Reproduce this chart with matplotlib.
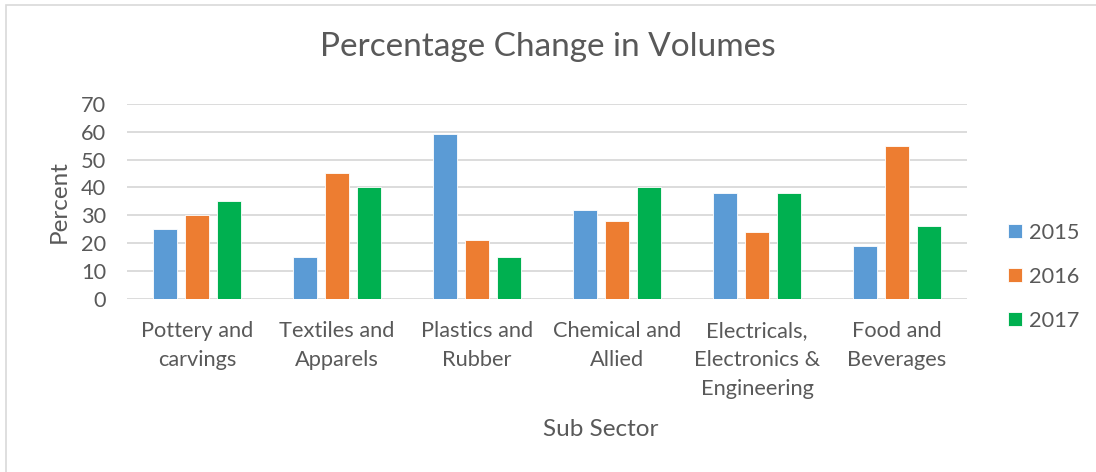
import matplotlib.pyplot as plt
import numpy as np
from matplotlib.patches import Rectangle

# sub sectors and yearly percentage change in volumes
sectors = ["Pottery and\ncarvings", "Textiles and\nApparels", "Plastics and\nRubber",
           "Chemical and\nAllied", "Electricals,\nElectronics &\nEngineering",
           "Food and\nBeverages"]
years = ["2015", "2016", "2017"]
vol_2015 = [25, 15, 59, 32, 38, 19]
vol_2016 = [30, 45, 21, 28, 24, 55]
vol_2017 = [35, 40, 15, 40, 38, 26]
y_ticks = [0, 10, 20, 30, 40, 50, 60, 70]

colors = ["#5B9BD5", "#ED7D31", "#00B050"]
text_color = "#595959"
grid_color = "#D9D9D9"

plt.rcParams['font.family'] = ['Lato', 'DejaVu Sans']

fig = plt.figure(figsize=(10.96, 4.72), dpi=100)
ax = fig.add_axes([127 / 1096, 1 - 299 / 472, 840 / 1096, (299 - 103.7) / 472])

x = np.arange(len(sectors))
width = 0.171
step = 0.226
for i, (vals, yr) in enumerate(zip([vol_2015, vol_2016, vol_2017], years)):
    ax.bar(x + (i - 1) * step, vals, width, color=colors[i], label=yr,
           edgecolor="white", linewidth=0.6, zorder=3)

ax.set_xlim(-0.5, len(sectors) - 0.5)
ax.set_ylim(0, 70)
ax.set_yticks(y_ticks)
ax.set_xticks(x)
ax.set_xticklabels(sectors, fontsize=15.7, color=text_color, linespacing=1.55)
ax.tick_params(axis='y', labelsize=15.7, labelcolor=text_color, length=0, pad=15)
ax.tick_params(axis='x', length=0, pad=16)
ax.grid(axis='y', color=grid_color, linewidth=1.3, zorder=0)
for s in ax.spines.values():
    s.set_visible(False)

ax.set_ylabel("Percent", fontsize=17.5, color=text_color, labelpad=8)
fig.text(601 / 1096, 1 - 430 / 472, "Sub Sector", fontsize=17.5, color=text_color,
         ha='center', va='center')
fig.text(548 / 1096, 1 - 47 / 472, "Percentage Change in Volumes", fontsize=24,
         color=text_color, ha='center', va='center')

leg = fig.legend(loc='upper left', bbox_to_anchor=(988 / 1096, 1 - 203 / 472),
                 frameon=False, fontsize=15.7, labelcolor=text_color,
                 handlelength=0.65, handleheight=0.65, handletextpad=0.35,
                 labelspacing=1.1)

# thin chart-area border along top and left
fig.patches.append(Rectangle((6 / 1096, -0.1), 1.2, 1 - 5 / 472 + 0.1,
                             transform=fig.transFigure, fill=False,
                             edgecolor=grid_color, linewidth=1.2))

fig.savefig("out.png", dpi=100)
